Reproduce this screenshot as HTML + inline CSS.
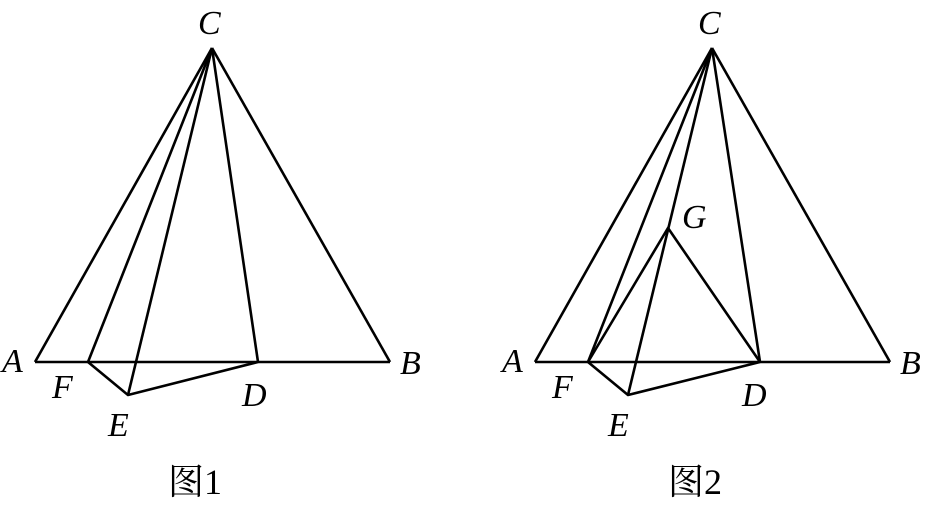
<!DOCTYPE html>
<html><head><meta charset="utf-8"><style>
html,body{margin:0;padding:0;background:#fff;}
svg{display:block;}
text{font-family:"Liberation Serif","Noto Serif CJK SC",serif;font-style:italic;font-size:34px;fill:#000;}
.cn{font-style:normal;font-size:36px;}
</style></head><body>
<svg width="933" height="505" viewBox="0 0 933 505" xmlns="http://www.w3.org/2000/svg">
<g stroke="#000" stroke-width="2.6" fill="none" stroke-linejoin="round">
<!-- fig 1 -->
<line x1="212" y1="48" x2="35" y2="362"/>
<line x1="212" y1="48" x2="390" y2="362"/>
<line x1="212" y1="48" x2="88" y2="362"/>
<line x1="212" y1="48" x2="128" y2="395"/>
<line x1="212" y1="48" x2="258" y2="362"/>
<line x1="35" y1="362" x2="390" y2="362"/>
<polyline points="88,362 128,395 258,362"/>
<!-- fig 2 -->
<line x1="712" y1="48" x2="535" y2="362"/>
<line x1="712" y1="48" x2="890" y2="362"/>
<line x1="712" y1="48" x2="588" y2="362"/>
<line x1="712" y1="48" x2="628" y2="395"/>
<line x1="712" y1="48" x2="760" y2="362"/>
<line x1="535" y1="362" x2="890" y2="362"/>
<polyline points="588,362 628,395 760,362"/>
<polyline points="588,362 668,228 760,362"/>
</g>
<text x="198" y="34">C</text>
<text x="2" y="372">A</text>
<text x="400" y="374">B</text>
<text x="52" y="398">F</text>
<text x="108" y="436">E</text>
<text x="242" y="406">D</text>
<text class="cn" x="168" y="494">图1</text>
<text x="698" y="34">C</text>
<text x="502" y="372">A</text>
<text x="900" y="374">B</text>
<text x="552" y="398">F</text>
<text x="608" y="436">E</text>
<text x="742" y="406">D</text>
<text x="682" y="228">G</text>
<text class="cn" x="668" y="494">图2</text>
</svg>
</body></html>
